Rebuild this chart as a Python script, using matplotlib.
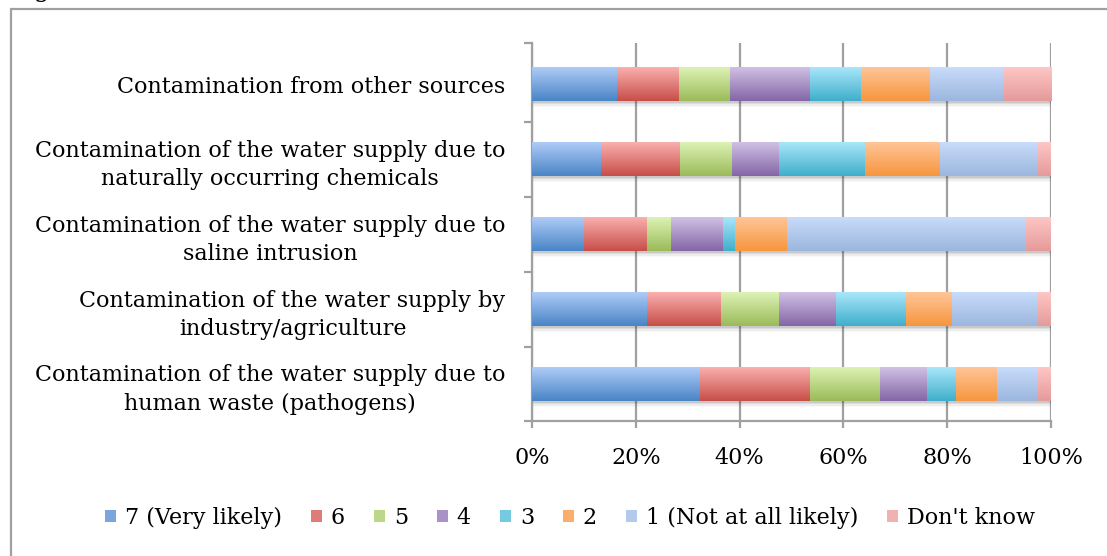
import matplotlib
matplotlib.use("Agg")
import matplotlib.pyplot as plt
import numpy as np
from matplotlib.colors import LinearSegmentedColormap
from matplotlib.patches import Rectangle
from matplotlib.ticker import FixedLocator, PercentFormatter

# ---- data (top-to-bottom reading order) ----
categories = [
    "Contamination from other sources",
    "Contamination of the water supply due to\nnaturally occurring chemicals",
    "Contamination of the water supply due to\nsaline intrusion",
    "Contamination of the water supply by\nindustry/agriculture",
    "Contamination of the water supply due to\nhuman waste (pathogens)",
]
series_names = ["7 (Very likely)", "6", "5", "4", "3", "2",
                "1 (Not at all likely)", "Don't know"]
v7 = [16.3, 13.3, 10.0, 22.1, 32.4]
v6 = [12.1, 15.3, 12.2, 14.4, 21.2]
v5 = [9.8, 10.0, 4.5, 11.1, 13.5]
v4 = [15.4, 9.0, 10.1, 11.0, 9.0]
v3 = [9.8, 16.6, 2.4, 13.4, 5.6]
v2 = [13.3, 14.4, 9.9, 8.9, 7.9]
v1 = [14.2, 18.9, 46.1, 16.6, 7.9]
vdk = [9.1, 2.5, 4.8, 2.5, 2.5]
series_values = [v7, v6, v5, v4, v3, v2, v1, vdk]
x_ticks = [0, 20, 40, 60, 80, 100]

top_colors = ["#AECBF7", "#F9B0AE", "#DCF2B4", "#D0C0E5", "#A9E6FA",
              "#FFC597", "#C8DCFB", "#FDC6C5"]
bot_colors = ["#4A85C6", "#C84E49", "#9BBB59", "#8466A6", "#3FAFCB",
              "#F7963E", "#9CB6DE", "#E49B9A"]
mid_colors = ["#7AA6DE", "#E07C78", "#BCD68A", "#A993C6", "#74CAE2",
              "#FBAE6A", "#B3CAEC", "#F0B1B0"]

serif = ["DejaVu Serif"]
fs = 16

fig = plt.figure(figsize=(11.07, 5.56), dpi=100)
ax = fig.add_axes([532 / 1107, 1 - 421 / 556, (1051 - 532) / 1107, (421 - 43) / 556])

n = len(categories)
ypos = np.arange(n)[::-1].astype(float)  # top category at highest y
bar_h = 0.45

# shadows
totals = np.sum(np.array(series_values), axis=0)
for k, a in enumerate([0.13, 0.09, 0.06, 0.03]):
    ax.barh(ypos - 0.025 - 0.02 * k, totals, height=bar_h, left=0.1 + 0.05 * k,
            color="#404040", alpha=a, linewidth=0, zorder=2)

left = np.zeros(n)
for vals, tc, bc, mc, name in zip(series_values, top_colors, bot_colors,
                                  mid_colors, series_names):
    bars = ax.barh(ypos, vals, height=bar_h, left=left, color=mc,
                   linewidth=0, zorder=3, label=name)
    cmap = LinearSegmentedColormap.from_list("g", [tc, bc])
    grad = np.linspace(0, 1, 64).reshape(-1, 1)
    for p in bars.patches:
        x0, y0 = p.get_x(), p.get_y()
        w, h = p.get_width(), p.get_height()
        im = ax.imshow(grad, cmap=cmap, extent=(x0, x0 + w, y0, y0 + h),
                       origin="upper", aspect="auto", zorder=4,
                       interpolation="bilinear")
        im.set_clip_path(p)
    left = left + np.array(vals)

ylo, yhi = -0.493, 4.547
ax.set_xlim(0, 100)
ax.set_ylim(ylo, yhi)

# grid / spines
gridc = "#A0A0A0"
ax.xaxis.set_major_locator(FixedLocator(x_ticks))
ax.xaxis.set_major_formatter(PercentFormatter(decimals=0))
ax.grid(axis="x", color=gridc, linewidth=1.6, zorder=1)
ax.set_axisbelow(True)
for s in ["top", "right"]:
    ax.spines[s].set_visible(False)
for s in ["left", "bottom"]:
    ax.spines[s].set_color(gridc)
    ax.spines[s].set_linewidth(1.6)

ax.set_yticks(ypos)
ax.set_yticklabels(categories, fontsize=fs, family=serif)
for t in ax.get_yticklabels():
    t.set_multialignment("center")
    t.set_linespacing(1.4)
ax.yaxis.set_minor_locator(FixedLocator([ylo, 0.5, 1.5, 2.5, 3.5, yhi]))
ax.tick_params(axis="y", which="major", length=0, pad=19)
ax.tick_params(axis="y", which="minor", length=6, width=1.6, color=gridc)
ax.tick_params(axis="x", which="major", length=5, width=1.6, color=gridc,
               labelsize=fs, pad=14)
for t in ax.get_xticklabels():
    t.set_family(serif)

# legend
handles, labels = ax.get_legend_handles_labels()
leg = fig.legend(handles, labels, loc="center",
                 bbox_to_anchor=(570 / 1107, 1 - 518 / 556), ncol=8,
                 frameon=False, prop={"family": serif, "size": fs},
                 handlelength=0.5, handleheight=0.5, handletextpad=0.4,
                 columnspacing=1.3)

# outer border
fig.patches.append(Rectangle((11 / 1107, -0.1), 2.0, 1 - 9 / 556 + 0.1,
                             transform=fig.transFigure, fill=False,
                             edgecolor="#A0A0A0", linewidth=1.6))
# cropped title descender
fig.text(34 / 1107, 1 + 3 / 556, "g", family=serif, fontsize=18,
         va="baseline", ha="left")

fig.savefig("out.png", dpi=100)
